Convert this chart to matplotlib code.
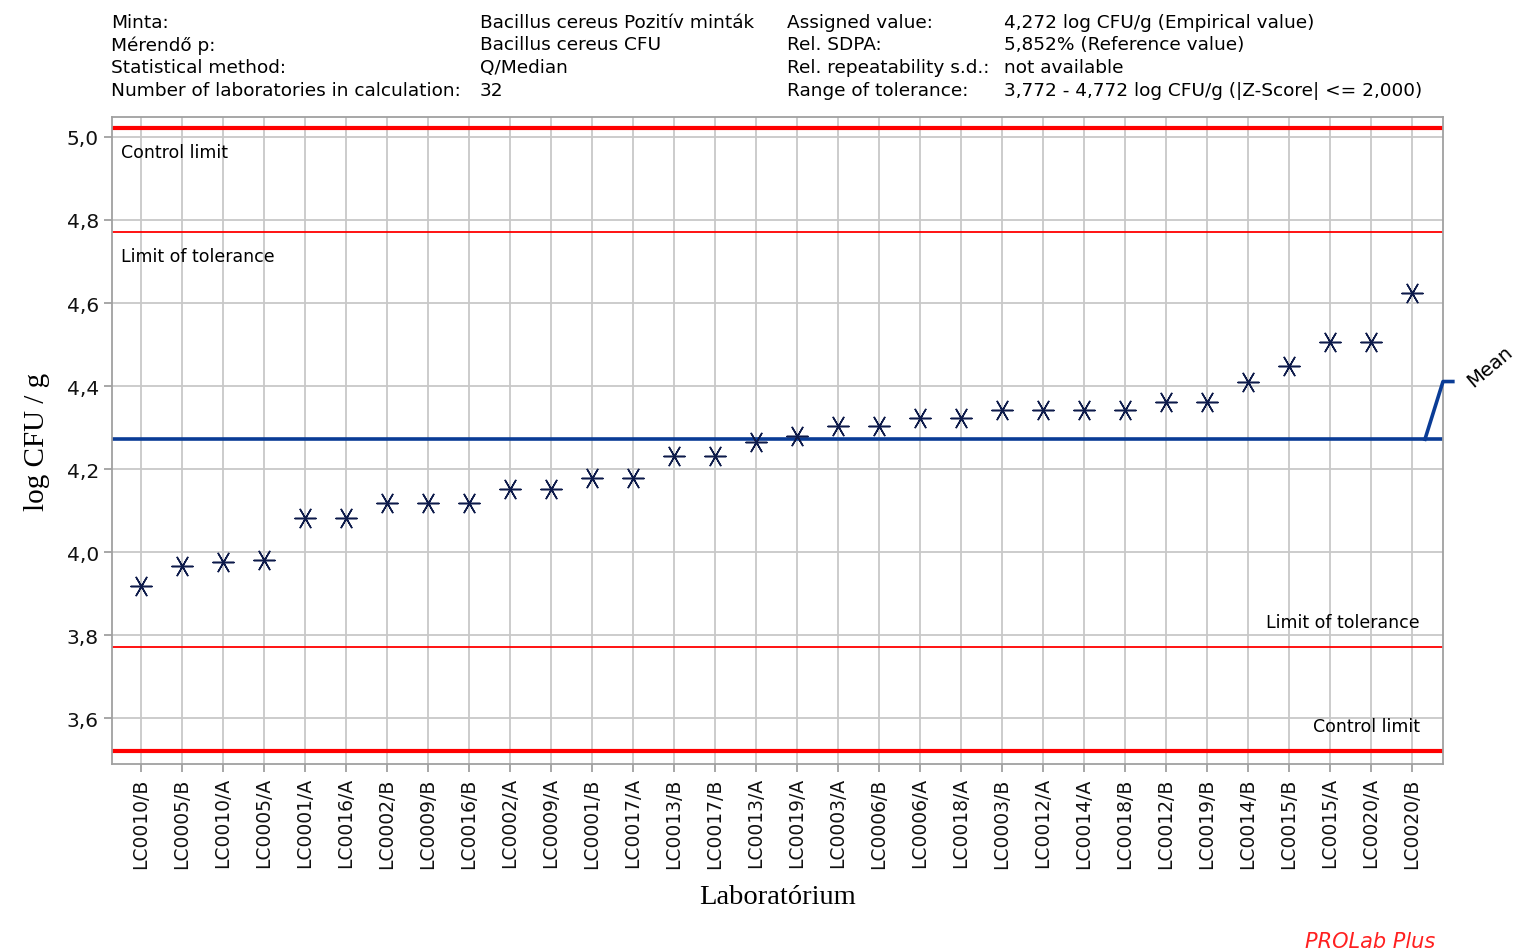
import numpy as np
import matplotlib.pyplot as plt

# dane
labs = ['LC0010/B', 'LC0005/B', 'LC0010/A', 'LC0005/A', 'LC0001/A', 'LC0016/A', 'LC0002/B', 'LC0009/B',
        'LC0016/B', 'LC0002/A', 'LC0009/A', 'LC0001/B', 'LC0017/A', 'LC0013/B', 'LC0017/B', 'LC0013/A',
        'LC0019/A', 'LC0003/A', 'LC0006/B', 'LC0006/A', 'LC0018/A', 'LC0003/B', 'LC0012/A', 'LC0014/A',
        'LC0018/B', 'LC0012/B', 'LC0019/B', 'LC0014/B', 'LC0015/B', 'LC0015/A', 'LC0020/A', 'LC0020/B']
values = [3.919, 3.967, 3.976, 3.981, 4.082, 4.082, 4.118, 4.118,
          4.118, 4.152, 4.152, 4.178, 4.178, 4.231, 4.231, 4.265,
          4.279, 4.303, 4.303, 4.323, 4.323, 4.342, 4.342, 4.342,
          4.342, 4.361, 4.361, 4.409, 4.448, 4.505, 4.505, 4.625]
assigned = 4.272
tol_low, tol_high = 3.772, 4.772
ctl_low, ctl_high = 3.522, 5.022
yticks = [3.6, 3.8, 4.0, 4.2, 4.4, 4.6, 4.8, 5.0]

header_left = [('Minta:', 'Bacillus cereus Pozitív minták'),
               ('Mérendő p:', 'Bacillus cereus CFU'),
               ('Statistical method:', 'Q/Median'),
               ('Number of laboratories in calculation:', '32')]
header_right = [('Assigned value:', '4,272 log CFU/g (Empirical value)'),
                ('Rel. SDPA:', '5,852% (Reference value)'),
                ('Rel. repeatability s.d.:', 'not available'),
                ('Range of tolerance:', '3,772 - 4,772 log CFU/g (|Z-Score| <= 2,000)')]

plt.rcParams['font.family'] = ['DejaVu Sans']

W, H = 1519, 953
fig = plt.figure(figsize=(W / 100, H / 100), dpi=100)
ax = fig.add_axes([112 / W, 1 - 765 / H, (1443 - 112) / W, (765 - 118) / H])

x = np.arange(len(labs))
ax.set_xlim(-0.71, 31.76)
ax.set_ylim(3.49, 5.048)

ax.grid(True, color='#c8c8c8', lw=1.3)
ax.set_axisbelow(True)
for s in ax.spines.values():
    s.set_color('#a0a0a0')
    s.set_linewidth(1.3)

ax.axhline(ctl_high, color='#ff0000', lw=3, zorder=2)
ax.axhline(ctl_low, color='#ff0000', lw=3, zorder=2)
ax.axhline(tol_high, color='#ff0000', lw=1.3, zorder=2)
ax.axhline(tol_low, color='#ff0000', lw=1.3, zorder=2)
ax.axhline(assigned, color='#0a3c96', lw=2.6, zorder=2)

# linia do etykiety Mean
ax.plot([31.32, 31.76, 32.0], [assigned, 4.411, 4.411], color='#0a3c96', lw=2.6,
        clip_on=False, zorder=3)
ax.text(32.9, 4.45, 'Mean', rotation=40, fontsize=14, ha='center', va='center',
        clip_on=False)

ax.scatter(x, values, marker=(6, 2, 90), s=230, color='#0d1a4a', lw=1.1, zorder=4)

ax.text(-0.5, 4.964, 'Control limit', fontsize=12.5, va='center', ha='left')
ax.text(-0.5, 4.713, 'Limit of tolerance', fontsize=12.5, va='center', ha='left')
ax.text(31.2, 3.831, 'Limit of tolerance', fontsize=12.5, va='center', ha='right')
ax.text(31.2, 3.581, 'Control limit', fontsize=12.5, va='center', ha='right')

ax.set_xticks(x)
ax.set_xticklabels(labs, rotation=90, fontsize=13.5)
ax.set_yticks(yticks)
ax.set_yticklabels([f'{v:.1f}'.replace('.', ',') for v in yticks], fontsize=14.5)
ax.tick_params(colors='#a0a0a0', labelcolor='#111111', length=6, width=1.3)

ax.set_ylabel('log CFU / g', family='Liberation Serif', fontsize=21, labelpad=12)
ax.set_xlabel('Laboratórium', family='Liberation Serif', fontsize=20.5, labelpad=12)

for i, (k, v) in enumerate(header_left):
    y = 1 - (23 + i * 22.5) / H
    fig.text(111 / W, y, k, fontsize=13.3, va='center')
    fig.text(480 / W, y, v, fontsize=13.3, va='center')
for i, (k, v) in enumerate(header_right):
    y = 1 - (23 + i * 22.5) / H
    fig.text(787 / W, y, k, fontsize=13.3, va='center')
    fig.text(1004 / W, y, v, fontsize=13.3, va='center')

fig.text(1435 / W, 1 - 942 / H, 'PROLab Plus', color='#ff2020', style='italic',
         fontsize=15, ha='right', va='center')

fig.savefig('out.png', dpi=100)
